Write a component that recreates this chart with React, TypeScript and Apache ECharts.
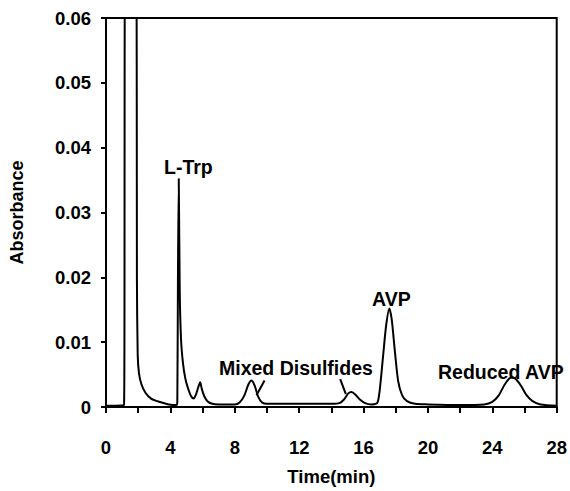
import React, { useEffect, useRef } from "react";
import * as echarts from "echarts";

// Chromatogram trace: [time (min), absorbance]
const trace: [number, number][] = [
  [0, 0.0002], [0.6, 0.0002], [1.12, 0.0003], [1.15, 0.02], [1.18, 0.09],
  [1.88, 0.09], [1.92, 0.02], [1.97, 0.008], [2.05, 0.0052], [2.2, 0.0035],
  [2.45, 0.0022], [2.8, 0.0013], [3.3, 0.0008], [3.9, 0.0004], [4.38, 0.0003],
  [4.43, 0.0008], [4.47, 0.02], [4.52, 0.0352], [4.58, 0.018], [4.66, 0.0105],
  [4.78, 0.0068], [4.92, 0.0045], [5.08, 0.003], [5.28, 0.0017], [5.45, 0.0013],
  [5.6, 0.002], [5.75, 0.0032], [5.85, 0.0038], [5.95, 0.0028], [6.1, 0.0017],
  [6.3, 0.0009], [6.6, 0.0005], [7, 0.0004], [8, 0.0004], [8.3, 0.0007],
  [8.6, 0.0018], [8.85, 0.0035], [9.05, 0.0041], [9.25, 0.0032], [9.45, 0.0016],
  [9.7, 0.0007], [10, 0.0005], [12, 0.0005], [14, 0.0005], [14.5, 0.0006],
  [14.8, 0.0012], [15.05, 0.0021], [15.25, 0.0023], [15.5, 0.0019], [15.75, 0.0012],
  [16.1, 0.0006], [16.5, 0.0004], [16.85, 0.0006], [17.0, 0.0025], [17.2, 0.0075],
  [17.4, 0.0125], [17.6, 0.0152], [17.75, 0.0135], [17.95, 0.0085], [18.15, 0.004],
  [18.4, 0.0018], [18.7, 0.0009], [19.2, 0.0005], [20, 0.0004], [22, 0.0003],
  [23.5, 0.0004], [24.0, 0.0008], [24.4, 0.0018], [24.75, 0.0034], [25.05, 0.0044],
  [25.25, 0.0046], [25.5, 0.0042], [25.8, 0.0032], [26.1, 0.0019], [26.5, 0.0009],
  [27, 0.0004], [28, 0.0002],
];

// Pointer lines from the "Mixed Disulfides" label to its two peaks
const pointerA: [number, number][] = [[9.35, 0.0018], [9.85, 0.0041]];
const pointerB: [number, number][] = [[14.55, 0.0043], [14.9, 0.002]];

const xTicks = { min: 0, max: 28, interval: 2, labelEvery: 4 };
const yTicks = { min: 0, max: 0.06, interval: 0.01 };

// Peak labels
const peakLabels = [
  { text: "L-Trp", x: 164, y: 167 },
  { text: "Mixed Disulfides", x: 219, y: 368 },
  { text: "AVP", x: 372, y: 299 },
  { text: "Reduced AVP", x: 438, y: 372 },
];

const FONT = "'Liberation Sans', Arial, Helvetica, sans-serif";

export default function App() {
  const ref = useRef<HTMLDivElement>(null);
  useEffect(() => {
    if (!ref.current) return;
    const chart = echarts.init(ref.current, undefined, { renderer: "svg" });
    const lineStyle = { color: "#000", width: 2 };
    chart.setOption({
      animation: false,
      backgroundColor: "#fff",
      grid: {
        left: 104, right: 8, top: 18, bottom: 79,
        show: true, borderColor: "#000", borderWidth: 2,
      },
      xAxis: {
        type: "value",
        min: xTicks.min, max: xTicks.max, interval: xTicks.interval,
        name: "Time(min)", nameLocation: "middle", nameGap: 60,
        nameTextStyle: { fontFamily: FONT, fontWeight: "bold", fontSize: 18.5, color: "#000" },
        axisLine: { lineStyle: { color: "#000", width: 2 } },
        axisTick: { length: 6, lineStyle: { color: "#000", width: 2 } },
        splitLine: { show: false },
        axisLabel: {
          margin: 31, fontFamily: FONT, fontWeight: "bold", fontSize: 18.5, color: "#000",
          formatter: (v: number) => (v % xTicks.labelEvery === 0 ? String(v) : ""),
        },
      },
      yAxis: {
        type: "value",
        min: yTicks.min, max: yTicks.max, interval: yTicks.interval,
        name: "Absorbance", nameLocation: "middle", nameGap: 80,
        nameTextStyle: { fontFamily: FONT, fontWeight: "bold", fontSize: 18, color: "#000" },
        axisLine: { show: true, lineStyle: { color: "#000", width: 2 } },
        axisTick: { show: true, length: 5, lineStyle: { color: "#000", width: 2 } },
        splitLine: { show: false },
        axisLabel: {
          margin: 15, fontFamily: FONT, fontWeight: "bold", fontSize: 18.5, color: "#000",
          formatter: (v: number) => (v === 0 ? "0" : v.toFixed(2)),
        },
      },
      series: [
        {
          type: "line", data: trace, showSymbol: false, smooth: 0.25,
          clip: true, lineStyle,
        },
        { type: "line", data: pointerA, showSymbol: false, lineStyle },
        { type: "line", data: pointerB, showSymbol: false, lineStyle },
      ],
      graphic: peakLabels.map((l) => ({
        type: "text", x: l.x, y: l.y,
        style: {
          text: l.text, fill: "#000", font: `bold 19.5px ${FONT}`,
          textVerticalAlign: "middle", textAlign: "left",
        },
      })),
    });
    return () => chart.dispose();
  }, []);
  return (
    <div
      ref={ref}
      style={{ position: "absolute", left: 0, top: 0, width: 570, height: 491 }}
    />
  );
}
